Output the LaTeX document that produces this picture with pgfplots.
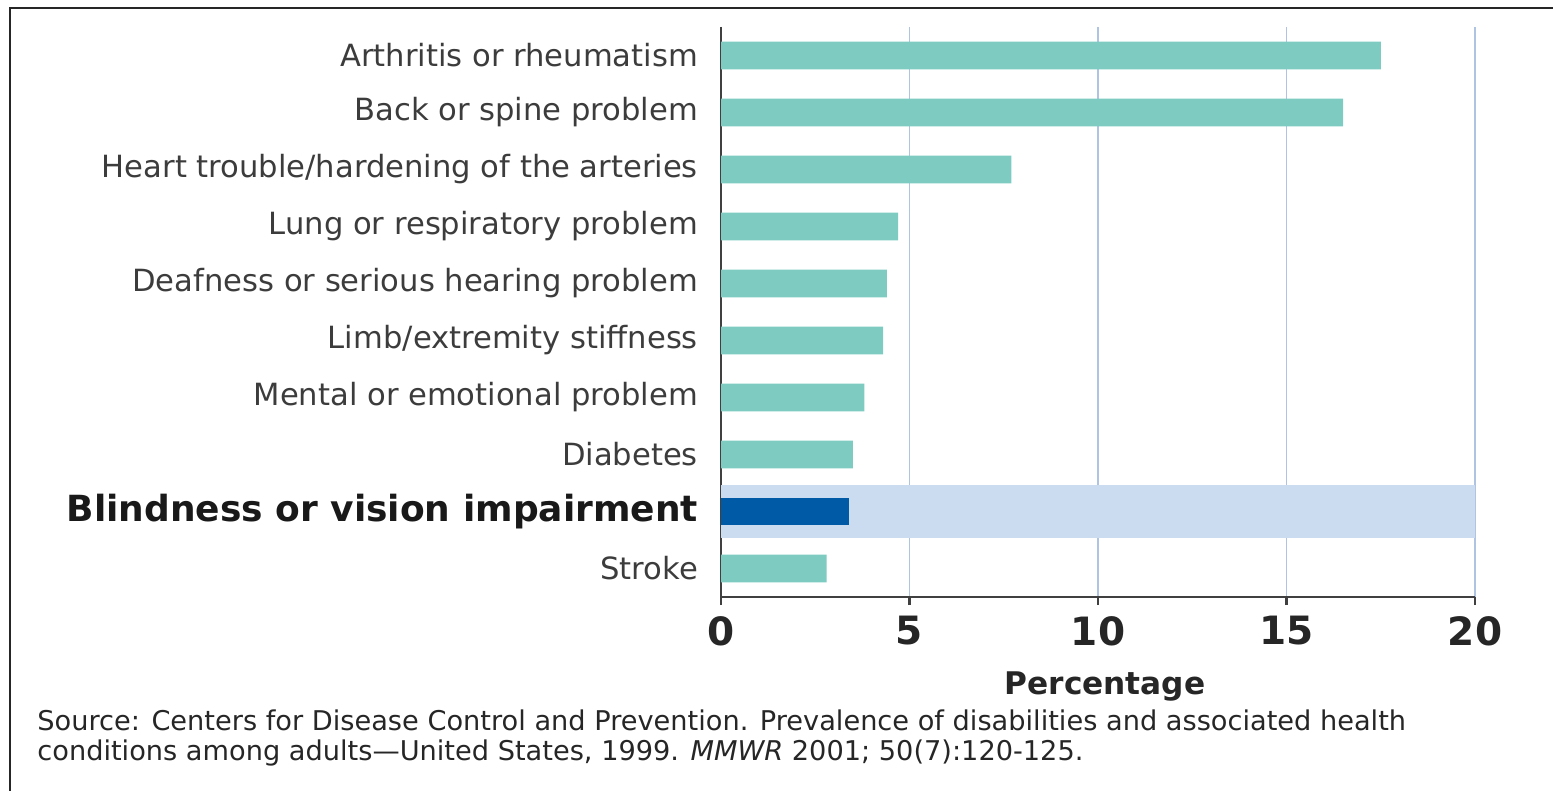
\documentclass[border=0pt]{standalone}
\usepackage{fontspec}
\setmainfont{DejaVu Sans}
\usepackage{pgfplots}
\pgfplotsset{compat=1.18}
\definecolor{barteal}{HTML}{7ECBC1}
\definecolor{bardark}{HTML}{005AA5}
\definecolor{bandblue}{HTML}{CCDCF0}
\definecolor{gridblue}{HTML}{AFC3E3}
\definecolor{labgray}{HTML}{3C3C3C}
\begin{document}
\begin{tikzpicture}
\useasboundingbox (0pt,0pt) rectangle (776.5pt,-395.5pt);
\draw[line width=1.3pt, black!85] (5pt,-395.5pt) -- (5pt,-4pt) -- (776.5pt,-4pt);
\begin{axis}[
  at={(360.5pt,-298.5pt)}, anchor=south west,
  scale only axis, width=377pt, height=285pt,
  xmin=0, xmax=20, ymin=-0.5, ymax=9.5,
  y dir=reverse,
  axis x line*=bottom, axis y line*=left,
  axis line style={black!75, line width=1.2pt, -},
  xtick={0,5,10,15,20},
  ytick={0,...,9},
  yticklabels={Arthritis or rheumatism, Back or spine problem, Heart trouble/hardening of the arteries, Lung or respiratory problem, Deafness or serious hearing problem, Limb/extremity stiffness, Mental or emotional problem, Diabetes, {\fontsize{18pt}{20pt}\bfseries\color{black!90}Blindness or vision impairment}, Stroke},
  yticklabel style={font=\fontsize{15.3pt}{17pt}\selectfont, text=labgray, xshift=-4pt},
  xticklabel style={font=\fontsize{19.5pt}{22pt}\selectfont\bfseries, text=black!85, yshift=-2pt},
  /pgf/number format/assume math mode=true,
  x tick style={black!75, line width=1.2pt},
  tick align=outside,
  major tick length=4pt,
  y tick style={draw=none},
  xmajorgrids,
  grid style={gridblue, line width=0.8pt},
]
\addplot[xbar, bar shift=0pt, bar width=0.94, fill=bandblue, draw=none] coordinates {(20,8)};
\addplot[xbar, bar shift=0pt, bar width=0.49, fill=barteal, draw=none] coordinates {
(17.5,0) (16.5,1) (7.7,2) (4.7,3) (4.4,4) (4.3,5) (3.8,6) (3.5,7) (2.8,9)};
\addplot[xbar, bar shift=0pt, bar width=0.49, fill=bardark, draw=none] coordinates {(3.4,8)};
\end{axis}
\node[font=\fontsize{15.6pt}{18pt}\selectfont\bfseries, text=black!85] at (552.5pt,-343pt) {Percentage};
\node[anchor=north west, align=left, font=\fontsize{13.6pt}{15pt}\selectfont, text=black!85, inner sep=0pt] at (18.5pt,-354.5pt) {Source: Centers for Disease Control and Prevention. Prevalence of disabilities and associated health\\conditions among adults—United States, 1999. \textit{MMWR} 2001; 50(7):120-125.};
\end{tikzpicture}
\end{document}
